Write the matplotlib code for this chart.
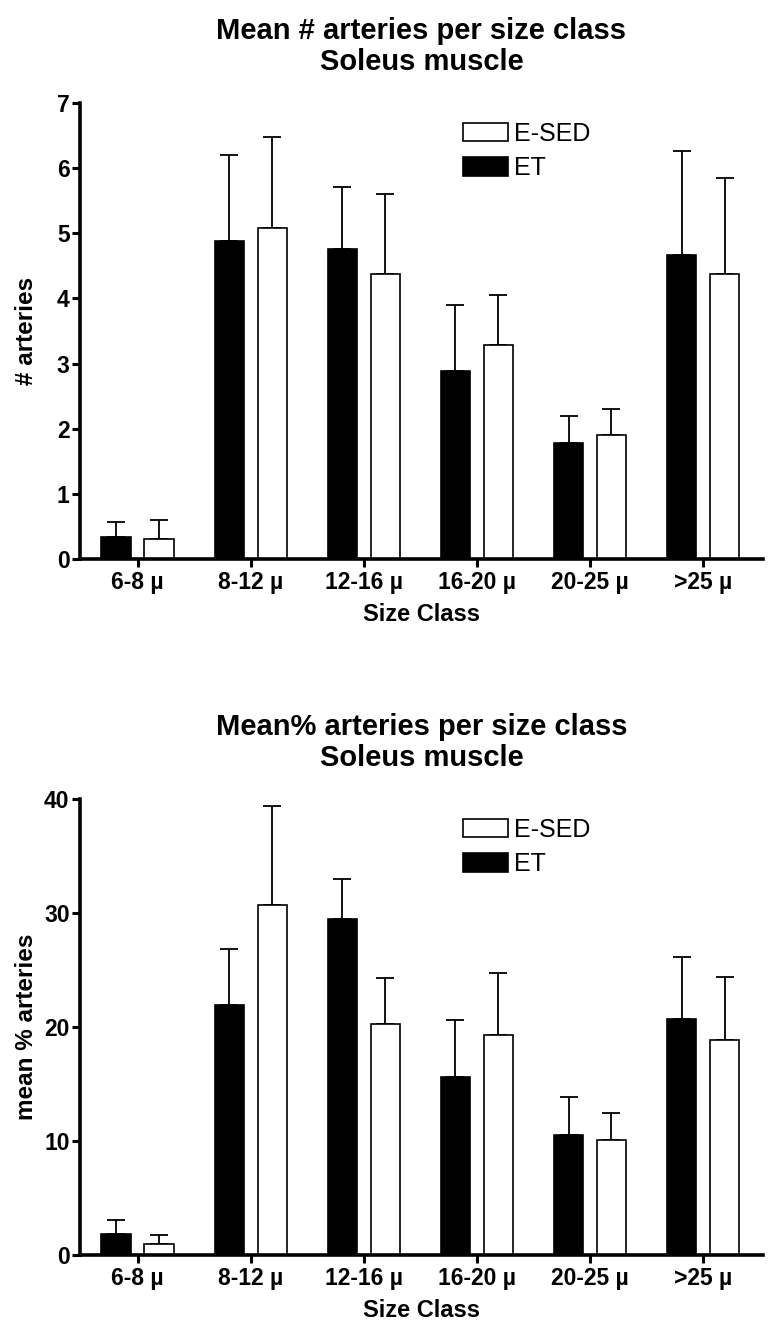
import matplotlib
matplotlib.use('Agg')
import matplotlib.pyplot as plt
import numpy as np

plt.rcParams['font.family'] = ['Liberation Sans', 'DejaVu Sans']

size_classes = ['6-8 µ', '8-12 µ', '12-16 µ', '16-20 µ', '20-25 µ', '>25 µ']

# top panel: mean number of arteries
count_et = [0.34, 4.88, 4.76, 2.88, 1.78, 4.66]
count_et_err = [0.23, 1.32, 0.95, 1.02, 0.42, 1.60]
count_sed = [0.30, 5.08, 4.38, 3.29, 1.90, 4.38]
count_sed_err = [0.30, 1.40, 1.22, 0.77, 0.40, 1.47]

# bottom panel: mean % arteries
pct_et = [1.87, 21.9, 29.5, 15.6, 10.5, 20.7]
pct_et_err = [1.2, 4.9, 3.5, 5.0, 3.4, 5.4]
pct_sed = [0.94, 30.7, 20.3, 19.3, 10.05, 18.9]
pct_sed_err = [0.82, 8.7, 4.0, 5.4, 2.45, 5.5]

W, H = 773, 1332
fig = plt.figure(figsize=(W / 100, H / 100), dpi=100)


def panel(ax, et, et_err, sed, sed_err, ymax, ystep, title, ylabel):
    x = np.arange(len(size_classes))
    bw = 0.26
    off = 0.19
    ax.bar(x - off, et, bw, color='black', edgecolor='black', linewidth=1.2, label='ET', zorder=2)
    ax.bar(x + off, sed, bw, color='white', edgecolor='black', linewidth=1.2, label='E-SED', zorder=2)
    ax.errorbar(x - off, et, yerr=[np.zeros(len(et)), et_err], fmt='none',
                ecolor='black', elinewidth=1.3, capsize=6.5, capthick=1.3, zorder=1)
    ax.errorbar(x + off, sed, yerr=[np.zeros(len(sed)), sed_err], fmt='none',
                ecolor='black', elinewidth=1.3, capsize=6.5, capthick=1.3, zorder=1)
    ax.set_xlim(-0.51, 5.53)
    ax.set_ylim(0, ymax)
    ax.set_yticks(np.arange(0, ymax + 0.01, ystep))
    ax.set_xticks(x)
    ax.set_xticklabels(size_classes)
    for s in ['top', 'right']:
        ax.spines[s].set_visible(False)
    for s in ['left', 'bottom']:
        ax.spines[s].set_linewidth(2.6)
    ax.tick_params(axis='both', width=2.2, length=6, labelsize=16.5, pad=1.5)
    ax.tick_params(axis='x', pad=3)
    for lab in ax.get_xticklabels() + ax.get_yticklabels():
        lab.set_fontweight('bold')
    ax.set_xlabel('Size Class', fontsize=17, fontweight='bold', labelpad=6)
    ax.set_ylabel(ylabel, fontsize=17.5, fontweight='bold')
    ax.yaxis.set_label_coords(-0.061, 0.5)
    ax.set_title(title, fontsize=21, fontweight='bold', pad=24, linespacing=1.1)
    handles, labels = ax.get_legend_handles_labels()
    ax.legend(handles[::-1], labels[::-1], loc='upper left', bbox_to_anchor=(0.535, 0.997),
              frameon=False, fontsize=18, handlelength=1.8, handleheight=0.75,
              handletextpad=0.25, labelspacing=0.42, borderaxespad=0.3)


ax1 = fig.add_axes([80 / W, 1 - 559 / H, 683 / W, 456 / H])
panel(ax1, count_et, count_et_err, count_sed, count_sed_err, 7, 1,
      'Mean # arteries per size class\nSoleus muscle', '# arteries')

ax2 = fig.add_axes([80 / W, 1 - 1255 / H, 683 / W, 456 / H])
panel(ax2, pct_et, pct_et_err, pct_sed, pct_sed_err, 40, 10,
      'Mean% arteries per size class\nSoleus muscle', 'mean % arteries')

fig.savefig('out.png', dpi=100)
